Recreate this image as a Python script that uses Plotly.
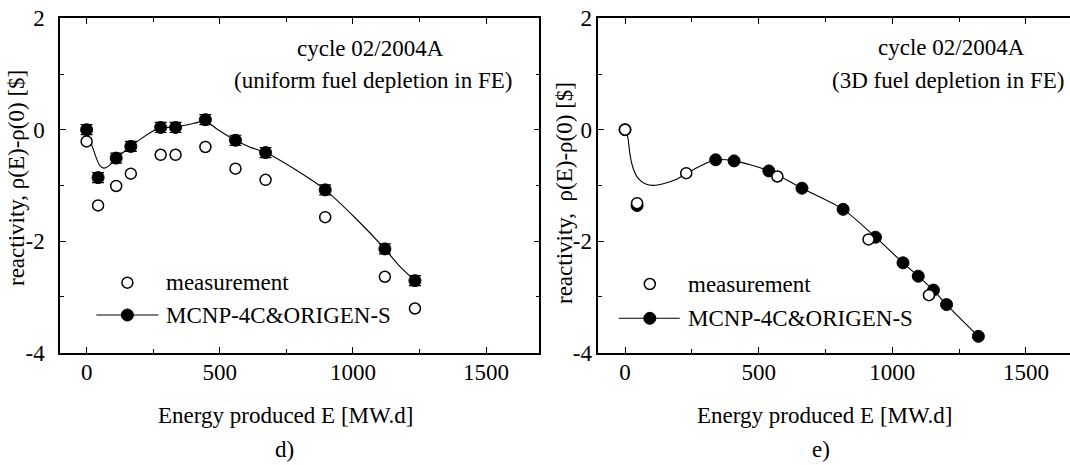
import plotly.graph_objects as go

W, H = 1070, 465
FONT = "Liberation Serif, Times New Roman, Times, serif"
FS = 23

# ---- panel d): uniform fuel depletion in FE ----
d_energy = [0, 43, 111, 166, 278, 334, 446, 559, 672, 896, 1120, 1233]
d_measured = [-0.21, -1.36, -1.01, -0.79, -0.45, -0.45, -0.31, -0.70, -0.90, -1.57, -2.64, -3.21]
d_mcnp = [0, -0.86, -0.51, -0.30, 0.04, 0.04, 0.18, -0.19, -0.41, -1.08, -2.14, -2.71]
d_mcnp_err = [0.09, 0.09, 0.09, 0.09, 0.09, 0.09, 0.09, 0.09, 0.09, 0.09, 0.09, 0.09]
d_fit_energy = [0, 24, 49, 65, 86, 111, 166, 205, 255, 278, 334, 400, 446, 493, 559,
                612, 672, 785, 896, 1010, 1120, 1175, 1233]
d_fit = [0, -0.34, -0.64, -0.69, -0.64, -0.51, -0.30, -0.16, -0.01, 0.03, 0.05, 0.11, 0.15,
         0.0, -0.19, -0.31, -0.41, -0.72, -1.08, -1.59, -2.14, -2.45, -2.71]

# ---- panel e): 3D fuel depletion in FE ----
e_meas_energy = [0, 45, 229, 570, 911, 1137]
e_measured = [0, -1.32, -0.78, -0.84, -1.97, -2.97]
e_mcnp_energy = [0, 45, 339, 408, 538, 662, 816, 937, 1040, 1097, 1154, 1203, 1322]
e_mcnp = [0, -1.36, -0.54, -0.56, -0.74, -1.05, -1.43, -1.93, -2.39, -2.63, -2.88, -3.14, -3.71]
e_fit_energy = [0, 10, 19, 31, 50, 75, 106, 143, 193, 229, 287, 339, 408, 538, 662, 816,
                937, 1040, 1097, 1154, 1203, 1322]
e_fit = [0, -0.13, -0.46, -0.70, -0.88, -0.97, -1.0, -0.97, -0.89, -0.79, -0.64, -0.54,
         -0.56, -0.74, -1.05, -1.43, -1.93, -2.39, -2.63, -2.88, -3.14, -3.71]

# ---- axis ticks ----
x_ticks = [0, 500, 1000, 1500]
x_tick_text = ["0", "500", "1000", "1500"]
x_minor = [250, 750, 1250]
y_ticks = [-4, -2, 0, 2]
y_tick_text = ["-4", "-2", "0", "2"]
y_minor = [-3, -1, 1]


def px(x):
    return x / W


def py(y):
    return 1 - y / H


open_marker = dict(symbol="circle", size=11, color="white", line=dict(color="black", width=1.5))
solid_marker = dict(symbol="circle", size=12, color="black", line=dict(color="black", width=1))

fig = go.Figure()

# panel d)
fig.add_trace(go.Scatter(x=d_fit_energy, y=d_fit, mode="lines", line=dict(color="black", width=1.1, shape="spline", smoothing=0.8),
                         xaxis="x", yaxis="y", showlegend=False, hoverinfo="skip"))
fig.add_trace(go.Scatter(x=d_energy, y=d_measured, mode="markers", marker=open_marker,
                         xaxis="x", yaxis="y", name="measurement", showlegend=False))
fig.add_trace(go.Scatter(x=d_energy, y=d_mcnp, mode="markers", marker=solid_marker,
                         error_y=dict(type="data", array=d_mcnp_err, color="black", thickness=1.2, width=6),
                         xaxis="x", yaxis="y", name="MCNP-4C&ORIGEN-S", showlegend=False))

# panel e)
fig.add_trace(go.Scatter(x=e_fit_energy, y=e_fit, mode="lines", line=dict(color="black", width=1.1, shape="spline", smoothing=0.8),
                         xaxis="x2", yaxis="y2", showlegend=False, hoverinfo="skip"))
fig.add_trace(go.Scatter(x=e_mcnp_energy, y=e_mcnp, mode="markers", marker=solid_marker,
                         xaxis="x2", yaxis="y2", name="MCNP-4C&ORIGEN-S", showlegend=False))
fig.add_trace(go.Scatter(x=e_meas_energy, y=e_measured, mode="markers", marker=open_marker,
                         xaxis="x2", yaxis="y2", name="measurement", showlegend=False))

tickfont = dict(family=FONT, size=FS, color="black")


def xaxis_style(domain, rng, anchor):
    return dict(domain=domain, range=rng, anchor=anchor, showline=True, linecolor="black", linewidth=1.5,
                mirror="ticks", ticks="inside", ticklen=6, tickwidth=1.3, tickcolor="black",
                tickmode="array", tickvals=x_ticks, ticktext=x_tick_text, ticklabelstandoff=-2,
                minor=dict(tickmode="array", tickvals=x_minor, ticks="inside", ticklen=4, tickwidth=1.3, tickcolor="black"),
                showgrid=False, zeroline=False, tickfont=tickfont, automargin=False)


def yaxis_style(domain, anchor, mirror, standoff):
    return dict(domain=domain, range=[-4, 2], anchor=anchor, showline=True, linecolor="black", linewidth=1.5,
                mirror=mirror, ticks="inside", ticklen=6, tickwidth=1.3, tickcolor="black",
                tickmode="array", tickvals=y_ticks, ticktext=y_tick_text, ticklabelstandoff=standoff,
                minor=dict(tickmode="array", tickvals=y_minor, ticks="inside", ticklen=4, tickwidth=1.3, tickcolor="black"),
                showgrid=False, zeroline=False, tickfont=tickfont, automargin=False)


y_dom = [py(352.5), py(18.3)]
fig.update_layout(
    width=W, height=H, margin=dict(l=0, r=0, t=0, b=0, pad=0, autoexpand=False),
    paper_bgcolor="white", plot_bgcolor="white",
    font=dict(family=FONT, size=FS, color="black"),
    xaxis=xaxis_style([px(60), px(539.3)], [-100, 1700], "y"),
    yaxis=yaxis_style(y_dom, "x", "ticks", 9),
    xaxis2=xaxis_style([px(598.3), 1.0], [-100, 1664.8], "y2"),
    yaxis2=yaxis_style(y_dom, "x2", False, 0),
    showlegend=False,
)

txt = dict(family=FONT, size=FS, color="black")
annotations = []


def note(text, x, y, xanchor="center", angle=0):
    annotations.append(dict(text=text, x=px(x), y=py(y), xref="paper", yref="paper", showarrow=False,
                            xanchor=xanchor, yanchor="middle", font=txt, textangle=angle))


# panel titles
note("cycle 02/2004A", 370, 48)
note("(uniform fuel depletion in FE)", 373, 80)
note("cycle 02/2004A", 951, 47)
note("(3D fuel depletion in FE)", 948, 80)

# axis titles
note("Energy produced E [MW.d]", 286, 415)
note("Energy produced E [MW.d]", 825, 415)
note("reactivity, ρ(E)-ρ(0) [$]", 16, 178, angle=-90)
note("reactivity,\u00a0 ρ(E)-ρ(0) [$]", 564, 193, angle=-90)

# panel letters
note("d)", 284, 449)
note("e)", 821, 449)

# legend entries
shapes = []


def legend_block(cx, y_open, y_solid, line_x0, line_x1, text_x):
    shapes.append(dict(type="line", xref="paper", yref="paper", x0=px(line_x0), x1=px(line_x1),
                       y0=py(y_solid), y1=py(y_solid), line=dict(color="black", width=1.1)))
    shapes.append(dict(type="circle", xref="paper", yref="paper", xsizemode="pixel", ysizemode="pixel",
                       xanchor=px(cx), yanchor=py(y_open), x0=-5.5, x1=5.5, y0=-5.5, y1=5.5,
                       fillcolor="white", line=dict(color="black", width=1.5)))
    shapes.append(dict(type="circle", xref="paper", yref="paper", xsizemode="pixel", ysizemode="pixel",
                       xanchor=px(cx), yanchor=py(y_solid), x0=-6, x1=6, y0=-6, y1=6,
                       fillcolor="black", line=dict(color="black", width=1)))
    note("measurement", text_x, y_open, xanchor="left")
    note("MCNP-4C&amp;ORIGEN-S", text_x, y_solid, xanchor="left")


legend_block(127.4, 282.7, 315, 96.4, 158.4, 164)
legend_block(649.8, 284, 318.3, 618.8, 679.8, 686)

fig.update_layout(annotations=annotations, shapes=shapes)
fig.write_html("out.html")
